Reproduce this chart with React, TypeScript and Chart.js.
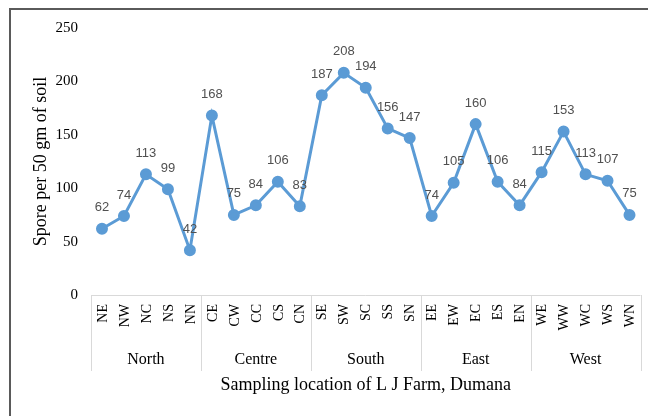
import React, { useEffect, useRef } from "react";
import { Chart, registerables } from "chart.js";

Chart.register(...registerables);

const categories = [
  "NE", "NW", "NC", "NS", "NN",
  "CE", "CW", "CC", "CS", "CN",
  "SE", "SW", "SC", "SS", "SN",
  "EE", "EW", "EC", "ES", "EN",
  "WE", "WW", "WC", "WS", "WN",
];
const groups = ["North", "Centre", "South", "East", "West"];
const groupSize = 5;
const spores = [
  62, 74, 113, 99, 42,
  168, 75, 84, 106, 83,
  187, 208, 194, 156, 147,
  74, 105, 160, 106, 84,
  115, 153, 113, 107, 75,
];
const yTitle = "Spore per 50 gm of soil";
const xTitle = "Sampling location of L J Farm, Dumana";

const SERIF = "'Liberation Serif', 'Times New Roman', serif";
const LABEL_FONT = "'Liberation Sans Narrow', 'Liberation Sans', Arial, sans-serif";

const decorPlugin = {
  id: "decor",
  beforeDraw(chart: any) {
    const { ctx, width, height } = chart;
    ctx.save();
    ctx.fillStyle = "#ffffff";
    ctx.fillRect(0, 0, width, height);
    ctx.restore();
  },
  afterDraw(chart: any) {
    const { ctx, chartArea } = chart;
    const xs = chart.scales.x;
    const { left, right, top, bottom } = chartArea;
    ctx.save();
    // outer frame (left & top)
    ctx.strokeStyle = "#5a5a5a";
    ctx.lineWidth = 2;
    ctx.beginPath();
    ctx.moveTo(10, 416);
    ctx.lineTo(10, 9);
    ctx.lineTo(648, 9);
    ctx.stroke();

    // axis line and separators
    ctx.strokeStyle = "#d9d9d9";
    ctx.lineWidth = 1;
    ctx.beginPath();
    ctx.moveTo(left, Math.round(bottom) + 0.5);
    ctx.lineTo(right, Math.round(bottom) + 0.5);
    const catW = (right - left) / categories.length;
    for (let k = 0; k <= groups.length; k++) {
      const x = Math.round(left + k * groupSize * catW) + 0.5;
      ctx.moveTo(x, bottom);
      ctx.lineTo(x, bottom + 76);
    }
    ctx.stroke();

    // category labels
    ctx.fillStyle = "#000000";
    ctx.font = `14px ${SERIF}`;
    categories.forEach((c, i) => {
      const x = xs.getPixelForValue(i);
      ctx.save();
      ctx.translate(x, bottom + 9);
      ctx.rotate(-Math.PI / 2);
      ctx.textAlign = "right";
      ctx.textBaseline = "middle";
      ctx.fillText(c, 0, 1);
      ctx.restore();
    });

    // group labels
    ctx.font = `16px ${SERIF}`;
    ctx.textAlign = "center";
    ctx.textBaseline = "middle";
    groups.forEach((g, k) => {
      const x = left + (k + 0.5) * groupSize * catW;
      ctx.fillText(g, x, bottom + 65);
    });

    // axis titles
    ctx.font = `18px ${SERIF}`;
    ctx.fillText(xTitle, (left + right) / 2, bottom + 90);
    ctx.save();
    ctx.translate(41, (top + bottom) / 2);
    ctx.rotate(-Math.PI / 2);
    ctx.fillText(yTitle, 0, 0);
    ctx.restore();

    // data labels
    const meta = chart.getDatasetMeta(0);
    ctx.fillStyle = "#505050";
    ctx.font = `13px ${LABEL_FONT}`;
    meta.data.forEach((pt: any, i: number) => {
      ctx.fillText(String(spores[i]), pt.x, pt.y - 21);
    });
    ctx.restore();
  },
};

export default function App() {
  const ref = useRef<HTMLCanvasElement | null>(null);
  useEffect(() => {
    if (!ref.current) return;
    const chart = new Chart(ref.current, {
      type: "line",
      data: {
        labels: categories,
        datasets: [
          {
            data: spores,
            borderColor: "#5B9BD5",
            backgroundColor: "#5B9BD5",
            borderWidth: 3,
            pointRadius: 4.5,
            pointBackgroundColor: "#5B9BD5",
            pointBorderColor: "#5B9BD5",
            tension: 0,
          },
        ],
      },
      options: {
        responsive: false,
        animation: false,
        devicePixelRatio: 1,
        layout: { padding: { left: 0, right: 5, top: 28, bottom: 0 } },
        plugins: {
          legend: { display: false },
          tooltip: { enabled: false },
        },
        scales: {
          x: {
            type: "category",
            offset: true,
            grid: { display: false, drawTicks: false },
            border: { display: false },
            ticks: { display: false },
            afterFit: (s: any) => {
              s.height = 121;
            },
          },
          y: {
            min: 0,
            max: 250,
            grid: { display: false, drawTicks: false },
            border: { display: false },
            ticks: {
              stepSize: 50,
              color: "#000000",
              padding: 13,
              font: { family: SERIF, size: 15 },
            },
            afterFit: (s: any) => {
              s.width = 91;
            },
          },
        },
      },
      plugins: [decorPlugin],
    });
    return () => chart.destroy();
  }, []);
  return (
    <div style={{ position: "fixed", left: 0, top: 0, width: 648, height: 416, background: "#fff" }}>
      <canvas ref={ref} width={648} height={416} style={{ display: "block" }} />
    </div>
  );
}
